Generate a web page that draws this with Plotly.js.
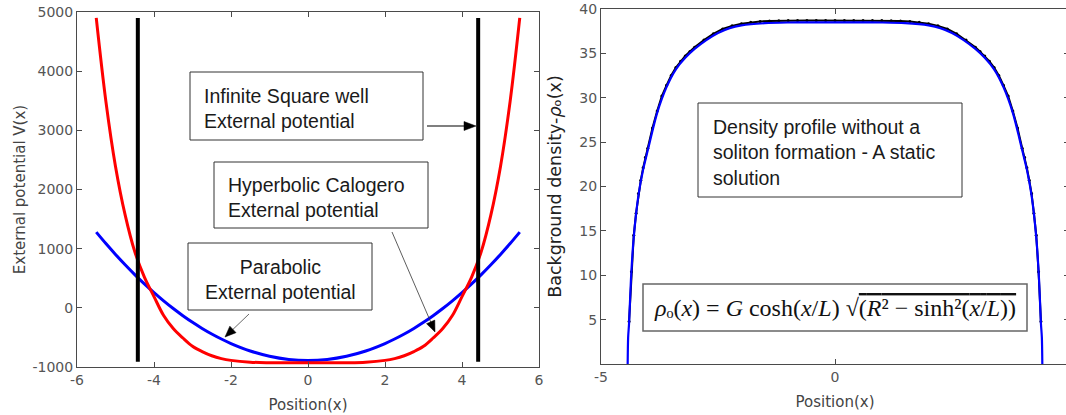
<!DOCTYPE html>
<html><head><meta charset="utf-8">
<script src="https://cdn.plot.ly/plotly-3.0.1.min.js"></script>
<style>html,body{margin:0;padding:0;overflow:hidden;background:#fff}#chart{width:1072px;height:415px}</style>
</head><body><div id="chart"></div>
<script>
// ---- Left panel: external potentials ----
const position   = [-5.5,-5.25,-5,-4.75,-4.5,-4.25,-4,-3.75,-3.5,-3.25,-3,-2.75,-2.5,-2.25,-2,-1.5,-1,-0.5,0,0.5,1,1.5,2,2.25,2.5,2.75,3,3.25,3.5,3.75,4,4.25,4.5,4.75,5,5.25,5.5];
const parabolicV = [1279,1086,903,728,562,405,257,118,-12,-133,-245,-348,-442,-527,-603,-729,-818,-872,-890,-872,-818,-729,-603,-527,-442,-348,-245,-133,-12,118,257,405,562,728,903,1086,1279];
const calogeroV  = [4900,3490,2390,1570,950,520,190,-130,-350,-510,-650,-740,-810,-858,-888,-918,-927,-929,-930,-929,-927,-918,-888,-858,-810,-740,-650,-510,-350,-130,190,520,950,1570,2390,3490,4900];
const wellX      = [-4.42, 4.42];
const wellV      = [-910, 4900];
const xTicksLeft = [-6,-4,-2,0,2,4,6];
const xTickTextLeft = ['-6','-4','-2','0','2','4','6'];
const yTicksLeft = [-1000,0,1000,2000,3000,4000,5000];
const yTickTextLeft = ['-1000','0','1000','2000','3000','4000','5000'];

// ---- Right panel: background density ----
const densityX   = [-4.43,-4.42,-4.4,-4.36,-4.3,-4.2,-4.1,-4,-3.8,-3.6,-3.4,-3.2,-3,-2.75,-2.5,-2.25,-2,-1.5,-1,-0.5,0,0.5,1,1.5,2,2.25,2.5,2.75,3,3.2,3.4,3.6,3.8,4,4.1,4.2,4.3,4.36,4.4,4.42,4.43];
const densityRho = [0,3,4.6,9.5,14.3,19.0,21.9,24.1,28.3,31.2,33.2,34.5,35.5,36.5,37.3,37.85,38.15,38.4,38.48,38.5,38.5,38.5,38.48,38.4,38.15,37.85,37.3,36.5,35.5,34.5,33.2,31.2,28.3,24.1,21.9,19.0,14.3,9.5,4.6,3,0];
const numericX   = [-4.4,-4.35,-4.3,-4.25,-4.2,-4.15,-4.1,-4.05,-4,-3.9,-3.8,-3.7,-3.6,-3.5,-3.4,-3.3,-3.2,-3.1,-3,-2.8,-2.6,-2.4,-2.2,-2,-1.8,-1.6,-1.4,-1.2,-1,-0.8,-0.6,-0.4,-0.2,0,0.2,0.4,0.6,0.8,1,1.2,1.4,1.6,1.8,2,2.2,2.4,2.6,2.8,3,3.1,3.2,3.3,3.4,3.5,3.6,3.7,3.8,3.9,4,4.05,4.1,4.15,4.2,4.25,4.3,4.35,4.4];
const numericRho = [4.8,10.4,14.5,17.0,19.2,20.7,22.1,23.3,24.3,26.6,28.5,30.2,31.4,32.5,33.4,34.1,34.7,35.2,35.7,36.5,37.2,37.75,38.1,38.35,38.5,38.6,38.65,38.68,38.7,38.7,38.7,38.7,38.7,38.7,38.7,38.7,38.7,38.7,38.7,38.68,38.65,38.6,38.5,38.35,38.1,37.75,37.2,36.5,35.7,35.2,34.7,34.1,33.4,32.5,31.4,30.2,28.5,26.6,24.3,23.3,22.1,20.7,19.2,17.0,14.5,10.4,4.8];
const xTicksRight = [-5,0,5];
const xTickTextRight = ['-5','0','5'];
const yTicksRight = [5,10,15,20,25,30,35,40];

const W = 1072, H = 415;
const px = v => v / W;
const py = v => 1 - v / H;

const traces = [
  {x: position, y: parabolicV, type:'scatter', mode:'lines', name:'Parabolic',
   line:{color:'#0000ff', width:3, shape:'spline', smoothing:1}, xaxis:'x', yaxis:'y'},
  {x: position, y: calogeroV, type:'scatter', mode:'lines', name:'Hyperbolic Calogero',
   line:{color:'#ff0000', width:3, shape:'spline', smoothing:1}, xaxis:'x', yaxis:'y'}
];
wellX.forEach(w => traces.push({x:[w,w], y:wellV, type:'scatter', mode:'lines', name:'Infinite square well',
   line:{color:'#000000', width:4}, xaxis:'x', yaxis:'y'}));
traces.push({x: numericX, y: numericRho, type:'scatter', mode:'lines+markers', name:'Numerical',
   line:{color:'#000000', width:2}, marker:{color:'#000000', size:3}, xaxis:'x2', yaxis:'y2'});
traces.push({x: densityX, y: densityRho, type:'scatter', mode:'lines', name:'Analytical',
   line:{color:'#0000ff', width:2.2, shape:'spline', smoothing:0.8}, xaxis:'x2', yaxis:'y2'});

const tickFont = {family:'DejaVu Sans, sans-serif', size:14, color:'#555555'};
const axisBase = {showline:true, mirror:'ticks', ticks:'inside', ticklen:5, tickcolor:'#4a4a4a',
  linecolor:'#4a4a4a', linewidth:1, showgrid:false, zeroline:false, tickfont:tickFont, automargin:false, tickmode:'array'};

// Text boxes: rectangles as shapes, text as annotations (pixel positions on the page)
const boxFont = {family:'Liberation Sans, Arial, sans-serif', size:19.5, color:'#1a1a1a'};
const rect = (x0, y0, x1, y1, color, w) => ({type:'rect', xref:'paper', yref:'paper', layer:'above',
  x0:px(x0), x1:px(x1), y0:py(y1), y1:py(y0), line:{color:color, width:w}, fillcolor:'#ffffff'});
const label = (x, ymid, anchor, text, align, font) => ({xref:'paper', yref:'paper', x:px(x), y:py(ymid),
  xanchor:anchor, yanchor:'middle', text:text, align:align, showarrow:false, borderpad:0, font:font || boxFont});

// Arrows drawn as a shaft line and a filled triangular head
function arrowShapes(tx, ty, hx, hy, color, width, len, half) {
  const dx = hx - tx, dy = hy - ty, d = Math.hypot(dx, dy), ux = dx / d, uy = dy / d;
  const bx = hx - ux * len, by = hy - uy * len;
  const p1 = [bx - uy * half, by + ux * half], p2 = [bx + uy * half, by - ux * half];
  return [
    {type:'line', xref:'paper', yref:'paper', layer:'above', x0:px(tx), y0:py(ty), x1:px(bx + ux*2), y1:py(by + uy*2),
     line:{color:color, width:width}},
    {type:'path', xref:'paper', yref:'paper', layer:'above',
     path:`M ${px(hx)} ${py(hy)} L ${px(p1[0])} ${py(p1[1])} L ${px(p2[0])} ${py(p2[1])} Z`,
     fillcolor:'#000000', line:{color:'#000000', width:0.5}}
  ];
}

const shapes = [
  rect(190, 72, 423, 140, '#333333', 1),
  rect(214, 162, 428, 228, '#333333', 1),
  rect(188, 243, 372, 310, '#333333', 1),
  rect(698, 103, 962, 197, '#333333', 1),
  rect(643, 284, 1027, 331, '#666666', 1.5),
  ...arrowShapes(427, 126, 476, 126, '#000000', 1.2, 12, 4.5),
  ...arrowShapes(392, 232, 435, 332, '#333333', 0.8, 11, 4.5),
  ...arrowShapes(249, 314, 225, 337, '#444444', 0.8, 11, 4.5)
];

const layout = {
  width:W, height:H, margin:{l:0,r:0,t:0,b:0}, showlegend:false,
  paper_bgcolor:'#ffffff', plot_bgcolor:'#ffffff',
  xaxis: Object.assign({}, axisBase, {domain:[px(77), px(539)], range:[-6,6], tickvals:xTicksLeft, ticktext:xTickTextLeft, anchor:'y',
    title:{text:'Position(x)', font:{family:'DejaVu Sans, sans-serif', size:15, color:'#444444'}, standoff:12}}),
  yaxis: Object.assign({}, axisBase, {domain:[1-367/H, 1-12/H], range:[-1000,5000], tickvals:yTicksLeft, ticktext:yTickTextLeft, anchor:'x',
    title:{text:'External potential V(x)', font:{family:'DejaVu Sans, sans-serif', size:15, color:'#444444'}, standoff:3}}),
  xaxis2: Object.assign({}, axisBase, {domain:[px(601), px(1069)], range:[-5,5], tickvals:xTicksRight, ticktext:xTickTextRight, anchor:'y2',
    title:{text:'Position(x)', font:{family:'DejaVu Sans, sans-serif', size:15, color:'#444444'}, standoff:12}}),
  yaxis2: Object.assign({}, axisBase, {domain:[1-364/H, 1-9/H], range:[0,40], tickvals:yTicksRight, anchor:'x2',
    title:{text:'Background density-<i>ρ</i>ₒ(x)', font:{family:'DejaVu Sans, sans-serif', size:17.5, color:'#222222'}, standoff:13}}),
  shapes: shapes,
  annotations: [
    label(203, 108.7, 'left', 'Infinite Square well<br>External potential', 'left'),
    label(227, 197.7, 'left', 'Hyperbolic Calogero<br>External potential', 'left'),
    label(280, 279, 'center', 'Parabolic<br>External potential', 'center'),
    label(712, 152, 'left', 'Density profile without a<br>soliton formation - A static<br>solution', 'left'),
    label(835, 307.5, 'center',
      '<i>ρ</i>ₒ(<i>x</i>) = <i>G</i> cosh(<i>x</i>/<i>L</i>) √<span style="text-decoration:overline">(<i>R</i>² − sinh²(<i>x</i>/<i>L</i>))</span>',
      'center', {family:'Liberation Serif, DejaVu Serif, serif', size:24, color:'#111111'})
  ]
};

Plotly.newPlot('chart', traces, layout, {displayModeBar:false, staticPlot:true});
</script>
</body></html>
